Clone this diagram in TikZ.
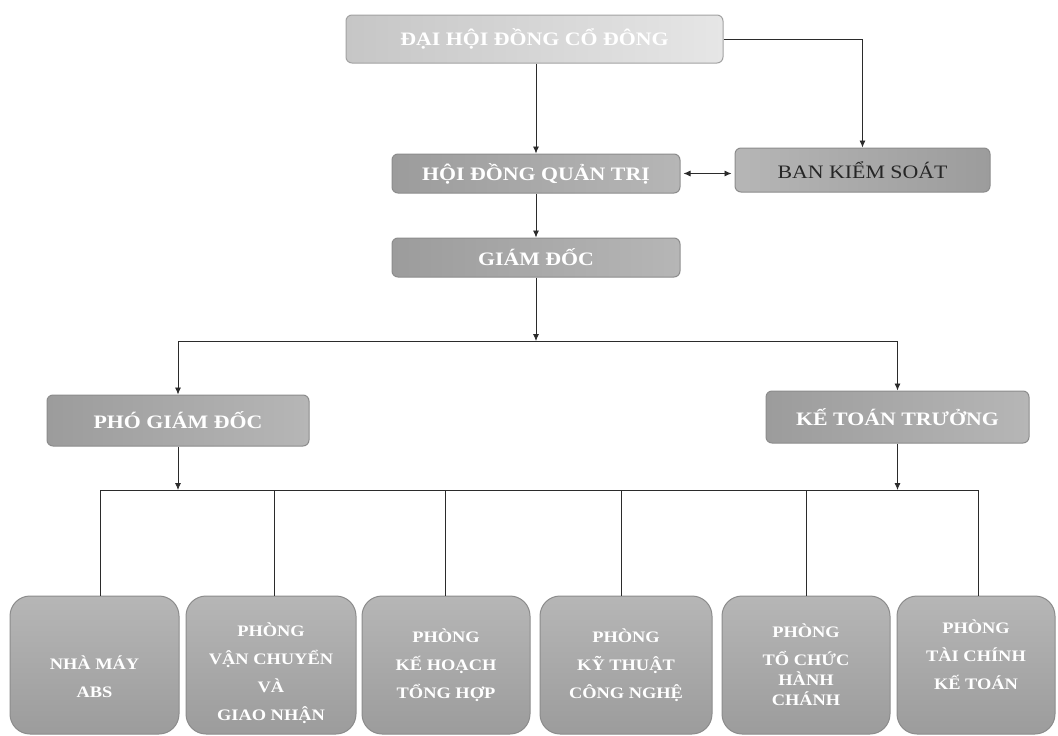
\documentclass[tikz,border=0pt]{standalone}
\usepackage{fontspec}
\usetikzlibrary{arrows.meta}
\newfontfamily\orgfont{Liberation Serif}[FakeStretch=1.15]
\definecolor{linecol}{HTML}{2B2B2B}
\definecolor{boxborder}{HTML}{8C8C8C}
\definecolor{boxdark}{HTML}{9C9C9C}
\definecolor{boxlight}{HTML}{B6B6B6}
\definecolor{topleft}{HTML}{C6C6C6}
\definecolor{topright}{HTML}{E6E6E6}
\definecolor{topborder}{HTML}{A2A2A2}
\definecolor{darktext}{HTML}{262626}
\tikzset{
  headbox/.style={draw=boxborder, line width=1pt, rounded corners=6pt,
    left color=boxdark, right color=boxlight, text=white,
    font=\orgfont\bfseries\fontsize{19}{22}\selectfont, inner sep=0pt},
  topbox/.style={headbox, draw=topborder, left color=topleft, right color=topright},
  ctrlbox/.style={headbox, left color=boxlight, right color=boxdark, text=darktext,
    font=\orgfont\fontsize{19}{22}\selectfont},
  deptbox/.style={draw=boxborder, line width=1pt, rounded corners=20pt,
    top color=boxlight, bottom color=boxdark, text=white, align=center,
    font=\orgfont\bfseries\fontsize{16}{28}\selectfont, inner sep=0pt,
    minimum height=138pt},
  conn/.style={draw=linecol, line width=0.8pt},
  arr/.style={conn, -{Latex[length=7pt,width=6pt]}},
  darr/.style={conn, {Latex[length=7pt,width=6pt]}-{Latex[length=7pt,width=6pt]}, shorten <=3pt, shorten >=3pt}
}
\begin{document}
\begin{tikzpicture}[x=1pt,y=-1pt]
\useasboundingbox (0,0) rectangle (1058,736);
% top levels
\node[topbox, minimum width=377pt, minimum height=48pt] (dhdcd) at (534.5,39) {ĐẠI HỘI ĐỒNG CỔ ĐÔNG};
\node[headbox, minimum width=288pt, minimum height=39pt] (hdqt) at (536,173.5) {HỘI ĐỒNG QUẢN TRỊ};
\node[ctrlbox, minimum width=255pt, minimum height=44pt] (bks) at (862.5,170) {BAN KIỂM SOÁT};
\node[headbox, minimum width=288pt, minimum height=39pt] (gd) at (536,257.5) {GIÁM ĐỐC};
\node[headbox, minimum width=262pt, minimum height=51pt] (pgd) at (178,420.5) {PHÓ GIÁM ĐỐC};
\node[headbox, minimum width=263pt, minimum height=52pt] (ktt) at (897.5,417) {KẾ TOÁN TRƯỞNG};
% departments
\node[deptbox, minimum width=169pt] (b1) at (94.5,665) {\strut\\[-10pt]NHÀ MÁY\\ABS};
\node[deptbox, minimum width=170pt] (b2) at (271,665) {\strut\\[-18pt]PHÒNG\\VẬN CHUYỂN\\VÀ\\GIAO NHẬN};
\node[deptbox, minimum width=168pt] (b3) at (446,665) {PHÒNG\\KẾ HOẠCH\\TỔNG HỢP};
\node[deptbox, minimum width=172pt] (b4) at (626,665) {PHÒNG\\KỸ THUẬT\\CÔNG NGHỆ};
\node[deptbox, minimum width=168pt] (b5) at (806,665) {PHÒNG\\TỔ CHỨC\\[-8pt]HÀNH\\[-8pt]CHÁNH};
\node[deptbox, minimum width=158pt] (b6) at (976,665) {PHÒNG\\TÀI CHÍNH\\KẾ TOÁN\\[-16pt]\strut};
% junction coordinates
\coordinate (j) at (536,341);
\coordinate (busL) at (100,490);
\coordinate (busR) at (978,490);
\coordinate (t1) at (100,490);
\coordinate (t2) at (274,490);
\coordinate (t3) at (445,490);
\coordinate (t4) at (621,490);
\coordinate (t5) at (806,490);
\coordinate (t6) at (978,490);
% connectors
\draw[arr] (dhdcd.south -| hdqt.north) -- (hdqt.north);
\draw[arr] (dhdcd.east) -- (dhdcd.east -| bks.north) -- (bks.north);
\draw[darr] (hdqt.east) -- (hdqt.east -| bks.west);
\draw[arr] (hdqt.south) -- (gd.north);
\draw[arr] (gd.south) -- (j);
\draw[arr] (j) -| (pgd.north);
\draw[arr] (j) -| (ktt.north);
\draw[arr] (pgd.south) -- (pgd.south |- busL);
\draw[arr] (ktt.south) -- (ktt.south |- busR);
\draw[conn] (busL) -- (busR);
\draw[conn] (t1) -- (t1 |- b1.north);
\draw[conn] (t2) -- (t2 |- b2.north);
\draw[conn] (t3) -- (t3 |- b3.north);
\draw[conn] (t4) -- (t4 |- b4.north);
\draw[conn] (t5) -- (t5 |- b5.north);
\draw[conn] (t6) -- (t6 |- b6.north);
\end{tikzpicture}
\end{document}
